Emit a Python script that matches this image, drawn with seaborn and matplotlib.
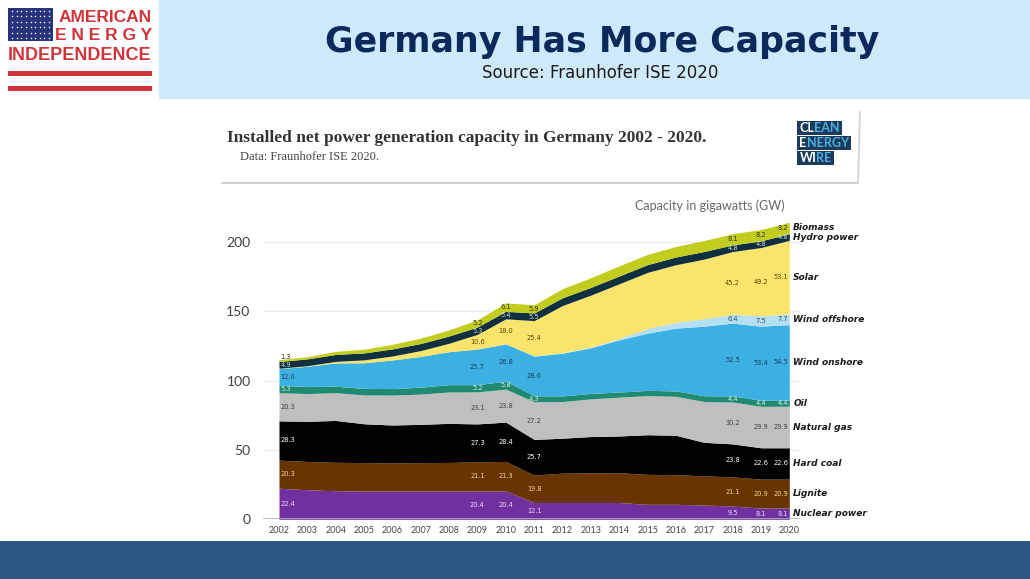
import numpy as np
import pandas as pd
import matplotlib.pyplot as plt
import seaborn as sns
from matplotlib.patches import Rectangle

years = list(range(2002, 2021))
nuclear = [22.4, 21.3, 20.6, 20.4, 20.4, 20.4, 20.4, 20.4, 20.4, 12.1, 12.1, 12.1, 12.1, 10.8, 10.8, 10.3, 9.5, 8.1, 8.1]
lignite = [20.3, 20.4, 20.5, 20.5, 20.4, 20.5, 20.6, 21.1, 21.3, 19.8, 21.2, 21.4, 21.5, 21.6, 21.4, 21.0, 21.1, 20.9, 20.9]
hard_coal = [28.3, 29.0, 30.2, 28.0, 27.2, 27.6, 28.2, 27.3, 28.4, 25.7, 25.2, 26.2, 26.5, 28.6, 28.4, 24.2, 23.8, 22.6, 22.6]
gas = [20.3, 20.0, 20.0, 20.8, 21.6, 21.8, 22.6, 23.1, 23.8, 27.2, 26.4, 27.2, 28.0, 28.2, 28.1, 29.4, 30.2, 29.9, 29.9]
oil = [5.3, 5.1, 4.7, 4.7, 4.7, 5.0, 5.3, 5.2, 5.8, 4.3, 4.1, 3.9, 3.7, 3.8, 3.9, 4.2, 4.4, 4.4, 4.4]
wind_onshore = [12.0, 14.6, 16.8, 18.5, 20.6, 22.2, 23.8, 25.7, 26.8, 28.6, 30.8, 32.9, 37.6, 41.3, 45.3, 50.2, 52.5, 53.4, 54.5]
wind_offshore = [0, 0, 0, 0, 0, 0, 0, 0.0, 0.1, 0.2, 0.3, 0.5, 1.0, 3.3, 4.2, 5.4, 6.4, 7.5, 7.7]
solar = [0.3, 0.4, 1.1, 2.1, 2.9, 4.2, 6.1, 10.6, 18.0, 25.4, 34.1, 37.5, 39.5, 40.5, 41.5, 43.0, 45.2, 49.2, 53.1]
hydro = [4.9, 4.9, 5.0, 5.0, 5.1, 5.1, 5.2, 5.3, 5.4, 5.5, 5.6, 5.6, 5.6, 5.6, 5.6, 5.5, 4.8, 4.8, 4.8]
biomass = [1.3, 1.6, 2.2, 2.7, 3.3, 3.9, 4.4, 5.2, 6.1, 5.9, 6.6, 7.0, 7.3, 7.4, 7.6, 7.9, 8.1, 8.2, 8.2]

names = ['Nuclear power', 'Lignite', 'Hard coal', 'Natural gas', 'Oil', 'Wind onshore',
         'Wind offshore', 'Solar', 'Hydro power', 'Biomass']
colors = ['#7030a0', '#683400', '#020202', '#bfbfbf', '#1f8a70', '#3db0e3',
          '#b4def2', '#fbe46c', '#10303f', '#c3cd20']
txt_colors = ['#f0dcff', '#f5d98a', '#ffffff', '#404040', '#d8f0e8', '#1d3c5c',
              '#2d4c6c', '#5a4a00', '#d0d8e0', '#303000']
label_years = [2002, 2009, 2010, 2011, 2018, 2019, 2020]

df = pd.DataFrame({'year': years, 'Nuclear power': nuclear, 'Lignite': lignite,
                   'Hard coal': hard_coal, 'Natural gas': gas, 'Oil': oil,
                   'Wind onshore': wind_onshore, 'Wind offshore': wind_offshore,
                   'Solar': solar, 'Hydro power': hydro, 'Biomass': biomass})

sns.set_style('white')
plt.rcParams['font.family'] = ['DejaVu Sans']
narrow = ['Liberation Sans Narrow', 'Lato', 'DejaVu Sans']

W, H = 1030, 579
fig = plt.figure(figsize=(W / 100, H / 100), dpi=100)
fig.patch.set_facecolor('white')

# decoration layer in pixel coordinates
bg = fig.add_axes([0, 0, 1, 1], zorder=0)
bg.set_xlim(0, W)
bg.set_ylim(H, 0)
bg.axis('off')

bg.add_patch(Rectangle((159, 0), W - 159, 99, color='#cde9fa', lw=0))
bg.add_patch(Rectangle((0, 541), W, H - 541, color='#2b5783', lw=0))

# logo
bg.add_patch(Rectangle((8, 8), 45, 33, color='#27337a', lw=0))
sx, sy = np.meshgrid(np.linspace(12, 49, 9), np.linspace(11, 38, 6))
bg.scatter(sx.ravel(), sy.ravel(), s=1.2, color='white', lw=0)
red = '#d0343b'
bg.text(152, 17, 'AMERICAN', color=red, fontsize=12.5, fontweight='bold', ha='right', va='center',
        family='Liberation Sans')
bg.text(152, 36, 'E N E R G Y', color=red, fontsize=12.5, fontweight='bold', ha='right', va='center',
        family='Liberation Sans')
bg.text(80, 55, 'INDEPENDENCE', color=red, fontsize=13, fontweight='bold', ha='center', va='center',
        family='Liberation Sans')
bg.add_patch(Rectangle((8, 71), 144, 5, color=red, lw=0))
bg.add_patch(Rectangle((8, 86), 144, 5, color=red, lw=0))

bg.text(602, 42, 'Germany Has More Capacity', color='#0b2a5b', fontsize=25, fontweight='bold',
        ha='center', va='center')
bg.text(600, 73, 'Source: Fraunhofer ISE 2020', color='#1a1a1a', fontsize=12, ha='center', va='center')

# inner chart header
bg.text(227, 138, 'Installed net power generation capacity in Germany 2002 - 2020.', color='#333333',
        fontsize=12.5, fontweight='bold', family='Liberation Serif', ha='left', va='center')
bg.text(240, 157, 'Data: Fraunhofer ISE 2020.', color='#444444', fontsize=9,
        family='Liberation Serif', ha='left', va='center')
bg.plot([222, 858], [183, 183], color='#d0d0d0', lw=1.5)
bg.plot([858, 860], [183, 112], color='#d8d8d8', lw=1.5)

navy = '#1b3a5c'
fig.canvas.draw()
rend = fig.canvas.get_renderer()
for (y0, a, b) in [(121, 'CL', 'EAN'), (136, 'E', 'NERGY'), (151, 'WI', 'RE')]:
    t1 = bg.text(799.5, y0 + 7, a, color='white', fontsize=9, fontweight='bold', va='center',
                 ha='left', family=narrow, zorder=3)
    w1 = t1.get_window_extent(renderer=rend).width
    t2 = bg.text(799.5 + w1, y0 + 7, b, color='#4ab0e0', fontsize=9, fontweight='bold', va='center',
                 ha='left', family=narrow, zorder=3)
    w2 = t2.get_window_extent(renderer=rend).width
    bg.add_patch(Rectangle((797, y0), w1 + w2 + 5, 14, color=navy, lw=0, zorder=2))

bg.text(785, 206, 'Capacity in gigawatts (GW)', color='#666666', fontsize=9, ha='right', va='center',
        family=narrow)

# chart axes: 2002 at x=279, 2020 at x=789; 0 at y=519.3, 1 GW = 1.3865 px
px_year = (789.3 - 279) / 18
left_px, right_px = 263, 800
top_px, bot_px = 214.3, 519.3
gw_px = 1.3865
ax = fig.add_axes([left_px / W, (H - bot_px) / H, (right_px - left_px) / W, (bot_px - top_px) / H], zorder=2)
ax.patch.set_alpha(0)
ax.set_xlim(2002 - (279 - left_px) / px_year, 2020 + (right_px - 789.3) / px_year)
ax.set_ylim(0, (bot_px - top_px) / gw_px)

vals = df[names].to_numpy().T
ax.stackplot(df['year'], vals, colors=colors, lw=0, zorder=2)
for v in [50, 100, 150, 200]:
    ax.axhline(v, color='#ececec', lw=0.8, zorder=1)
ax.axhline(0, color='#b0b0b0', lw=1.2, zorder=3)

sns.despine(ax=ax, left=True, bottom=True)
ax.set_yticks([0, 50, 100, 150, 200])
ax.set_yticklabels(['0', '50', '100', '150', '200'], fontsize=10, color='#404040', family=narrow)
ax.set_xticks(years)
ax.set_xticklabels([str(y) for y in years], fontsize=6.5, color='#444444', family=narrow)
ax.tick_params(axis='y', length=0, pad=9)
ax.tick_params(axis='x', length=0, pad=5)

cum = np.cumsum(vals, axis=0)
for i, name in enumerate(names):
    lo = cum[i] - vals[i]
    for yr in label_years:
        j = years.index(yr)
        v = vals[i][j]
        if v < 1:
            continue
        y = lo[j] + v / 2
        if v < 2:
            y = cum[i][j] + 1.8
        if yr == 2002:
            x, ha = 2002.05, 'left'
        elif yr == 2020:
            x, ha = 2019.97, 'right'
        else:
            x, ha = yr, 'center'
        ax.text(x, y, f'{v:.1f}', fontsize=4.8, color=txt_colors[i], ha=ha, va='center', zorder=4)
    ax.text(2020.14, lo[-1] + vals[i][-1] / 2, name, fontsize=6.5, fontweight='bold', style='italic',
            color='#1a1a1a', ha='left', va='center', clip_on=False)

fig.savefig('out.png', dpi=100)
